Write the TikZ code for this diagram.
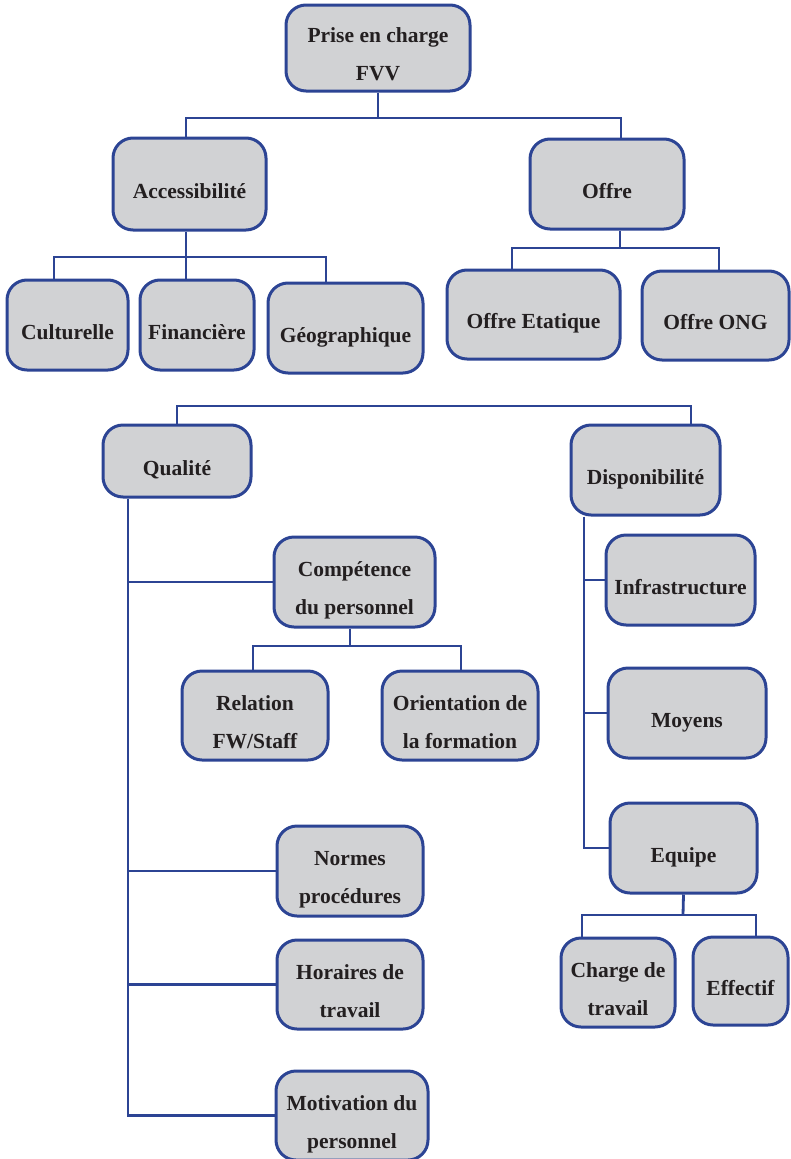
\documentclass[tikz,border=0pt]{standalone}
\usepackage{fontspec}
\setmainfont{Liberation Serif}
\definecolor{boxfill}{RGB}{209,210,212}
\definecolor{boxline}{RGB}{44,68,148}
\definecolor{txt}{RGB}{35,31,32}
\newcommand\twolines[2]{\rule{0pt}{32pt}#1\\#2\rule[-5pt]{0pt}{5pt}}
\begin{document}
\begin{tikzpicture}[x=1pt,y=-1pt,
  box/.style={rectangle, rounded corners=20pt, draw=boxline, line width=3pt,
    fill=boxfill, align=center, inner sep=0pt, text=txt,
    font=\bfseries\fontsize{21.5}{38}\selectfont},
  boxone/.style={box,
    execute at begin node={\rule{0pt}{33pt}},
    execute at end node={\rule[-5pt]{0pt}{5pt}}},
  conn/.style={draw=boxline, line width=2.8pt}]
\useasboundingbox (0,0) rectangle (791,1159);
% boxes
\node[box, minimum width=184pt, minimum height=86pt] (root) at (378,48) {\twolines{Prise en charge}{FVV}};
\node[boxone, minimum width=153pt, minimum height=92pt] (acc) at (189.5,184) {Accessibilité};
\node[boxone, minimum width=154pt, minimum height=90pt] (offre) at (607,184) {Offre};
\node[boxone, minimum width=121pt, minimum height=90pt] (cult) at (67.5,325) {Culturelle};
\node[boxone, minimum width=114pt, minimum height=90pt] (fin) at (197,325) {Financière};
\node[boxone, minimum width=155pt, minimum height=90pt] (geo) at (345.5,328) {Géographique};
\node[boxone, minimum width=173pt, minimum height=89pt] (oe) at (533.5,314.5) {Offre Etatique};
\node[boxone, minimum width=147pt, minimum height=89pt] (ong) at (715.5,315.5) {Offre ONG};
\node[boxone, minimum width=148pt, minimum height=72pt] (qual) at (177,461) {Qualité};
\node[boxone, minimum width=149pt, minimum height=90pt] (disp) at (645.5,470) {Disponibilité};
\node[box, minimum width=161pt, minimum height=90pt] (comp) at (354.5,582) {\twolines{Compétence}{du personnel}};
\node[box, minimum width=146pt, minimum height=89pt] (rel) at (255,715.5) {\twolines{Relation}{FW/Staff}};
\node[box, minimum width=156pt, minimum height=89pt] (ori) at (460,715.5) {\twolines{Orientation de}{la formation}};
\node[boxone, minimum width=149pt, minimum height=90pt] (infra) at (680.5,580) {Infrastructure};
\node[boxone, minimum width=158pt, minimum height=90pt] (moy) at (687,713) {Moyens};
\node[boxone, minimum width=147pt, minimum height=90pt] (equ) at (683.5,848) {Equipe};
\node[box, minimum width=114pt, minimum height=89pt] (charge) at (618,982.5) {\twolines{Charge de}{travail}};
\node[boxone, minimum width=95pt, minimum height=88pt] (eff) at (740.5,981) {Effectif};
\node[box, minimum width=146pt, minimum height=90pt] (norm) at (350,871) {\twolines{Normes}{procédures}};
\node[box, minimum width=146pt, minimum height=89pt] (hor) at (350,984.5) {\twolines{Horaires de}{travail}};
\node[box, minimum width=152pt, minimum height=89pt] (mot) at (352,1115.5) {\twolines{Motivation du}{personnel}};
% junctions
\coordinate (j1) at (378,118);
\coordinate (j2) at (186,257);
\coordinate (j3) at (620,248);
\coordinate (j4) at (691,406);
\coordinate (j6) at (350,646);
\coordinate (j8) at (683,915);
% connectors
\draw[conn] (root.south) -- (j1);
\draw[conn] (acc.north -| 186,0) |- (j1) -| (offre.north -| 621,0);
\draw[conn] (acc.south -| 186,0) -- (j2);
\draw[conn] (cult.north -| 54,0) |- (j2) -| (geo.north -| 326,0);
\draw[conn] (fin.north -| 186,0) -- (j2);
\draw[conn] (offre.south -| 620,0) -- (j3);
\draw[conn] (oe.north -| 512,0) |- (j3) -| (ong.north -| 719,0);
\draw[conn] (qual.north) |- (j4) -- (disp.north -| j4);
\draw[conn] (qual.south -| 128,0) |- (mot.west);
\draw[conn] (comp.west) -- (comp.west -| 128,0);
\draw[conn] (norm.west) -- (norm.west -| 128,0);
\draw[conn] (hor.west) -- (hor.west -| 128,0);
\draw[conn] (comp.south -| 350,0) -- (j6);
\draw[conn] (rel.north -| 253,0) |- (j6) -| (ori.north -| 461,0);
\draw[conn] (disp.south -| 584,0) |- (equ.west);
\draw[conn] (infra.west) -- (infra.west -| 584,0);
\draw[conn] (moy.west) -- (moy.west -| 584,0);
\draw[conn] (equ.south) -- (j8);
\draw[conn] (charge.north -| 582,0) |- (j8) -| (eff.north -| 756,0);
\end{tikzpicture}
\end{document}
